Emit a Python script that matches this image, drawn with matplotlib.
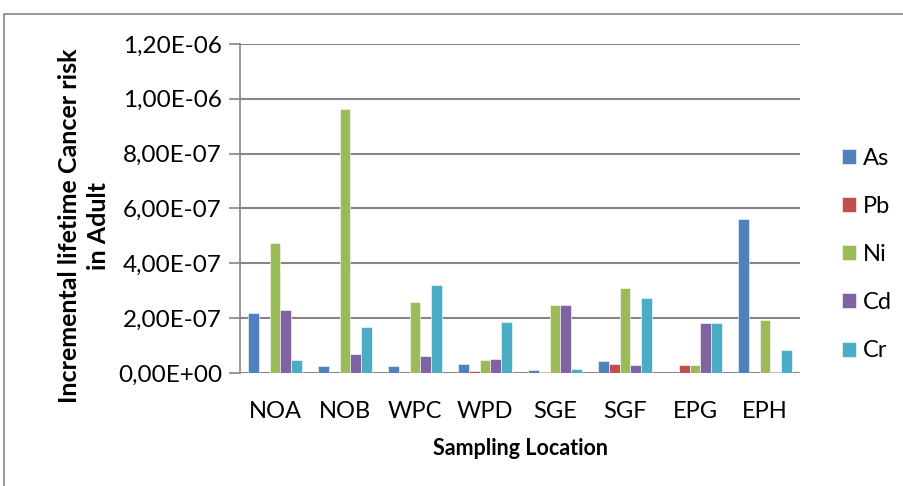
import matplotlib
matplotlib.use("Agg")
import matplotlib.pyplot as plt
import numpy as np
from matplotlib.patches import Rectangle
from matplotlib.ticker import FuncFormatter

# точки отбора проб
locations = ["NOA", "NOB", "WPC", "WPD", "SGE", "SGF", "EPG", "EPH"]

# риск по элементам
as_risk = [2.19e-7, 0.26e-7, 0.26e-7, 0.33e-7, 0.12e-7, 0.43e-7, 0.0, 5.60e-7]
pb_risk = [0.0, 0.0, 0.0, 0.07e-7, 0.03e-7, 0.34e-7, 0.29e-7, 0.0]
ni_risk = [4.74e-7, 9.63e-7, 2.59e-7, 0.48e-7, 2.48e-7, 3.10e-7, 0.29e-7, 1.95e-7]
cd_risk = [2.30e-7, 0.69e-7, 0.62e-7, 0.51e-7, 2.48e-7, 0.30e-7, 1.81e-7, 0.03e-7]
cr_risk = [0.47e-7, 1.68e-7, 3.20e-7, 1.86e-7, 0.14e-7, 2.73e-7, 1.84e-7, 0.85e-7]

series = [
    ("As", as_risk, "#4F81BD"),
    ("Pb", pb_risk, "#C0504D"),
    ("Ni", ni_risk, "#9BBB59"),
    ("Cd", cd_risk, "#8064A2"),
    ("Cr", cr_risk, "#4BACC6"),
]

plt.rcParams["font.family"] = ["Lato", "DejaVu Sans"]

fig = plt.figure(figsize=(9.04, 4.86), dpi=100)
ax = fig.add_axes([0.2655, 0.2325, 0.6195, 0.677])

# рамка вокруг диаграммы
fig.add_artist(Rectangle((4 / 904, -0.1), 1.2, 1.1 - 14 / 486,
                         transform=fig.transFigure, fill=False,
                         edgecolor="#868686", linewidth=1.2))

x = np.arange(len(locations))
width = 0.155
for i, (name, vals, color) in enumerate(series):
    ax.bar(x + (i - 2) * width, vals, width, color=color, label=name,
           edgecolor="white", linewidth=0.4, zorder=3)

ax.set_xlim(-0.5, len(locations) - 0.5)
ax.set_ylim(0, 1.2e-6)
ax.set_yticks(np.arange(0, 1.21e-6, 2e-7))
ax.yaxis.set_major_formatter(FuncFormatter(
    lambda v, p: ("%.2E" % v).replace(".", ",")))
ax.set_xticks(x)
ax.set_xticklabels(locations)

ax.grid(axis="y", color="#868686", linewidth=1.5, zorder=0)
for s in ["top", "right", "bottom"]:
    ax.spines[s].set_visible(False)
ax.spines["left"].set_color("#868686")
ax.spines["left"].set_linewidth(1.2)
ax.tick_params(axis="y", length=8, color="#868686", width=1.2,
               labelsize=17.5, pad=5)
ax.tick_params(axis="x", length=0, labelsize=17, pad=20)

ax.set_xlabel("Sampling Location", fontsize=15.5, fontweight="bold", labelpad=12)
ax.set_ylabel("Incremental lifetime Cancer risk\nin Adult", fontsize=18,
              fontweight="bold", linespacing=1.3)
ax.yaxis.set_label_coords(-0.233, 0.447)

ax.legend(loc="center left", bbox_to_anchor=(1.032, 0.36), frameon=False,
          fontsize=17, handlelength=0.6, handleheight=0.6,
          labelspacing=1.15, handletextpad=0.3, borderaxespad=0.6)

fig.savefig("out.png", dpi=100)
